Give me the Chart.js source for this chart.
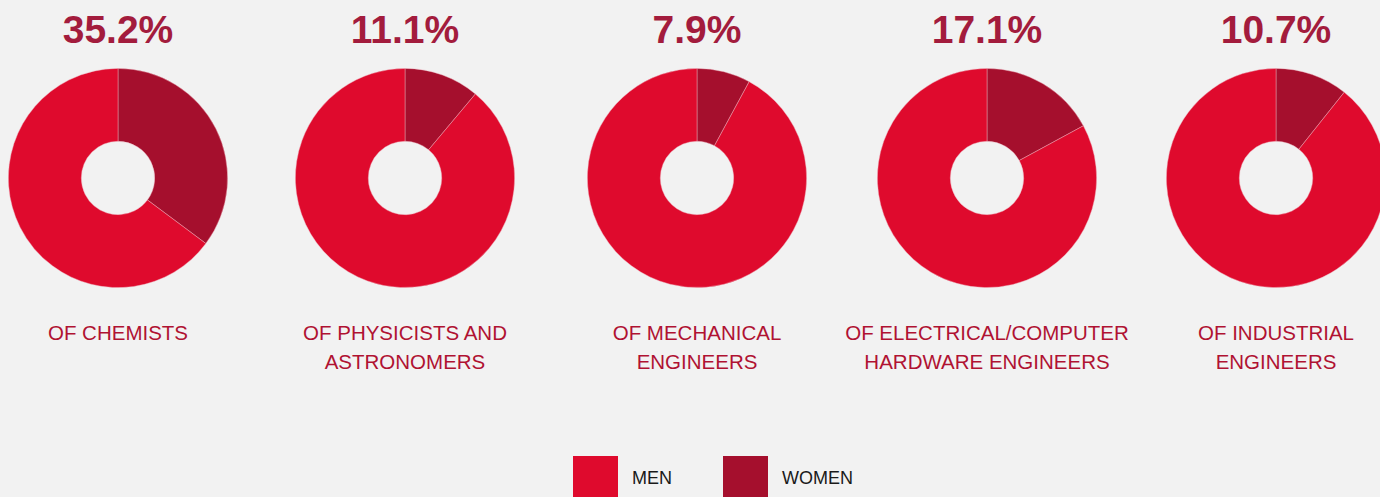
<!DOCTYPE html>
<html>
<head>
<meta charset="utf-8">
<script src="https://cdn.jsdelivr.net/npm/chart.js@4/dist/chart.umd.min.js"></script>
<style>
  html, body {
    margin: 0;
    padding: 0;
    width: 1380px;
    height: 497px;
    overflow: hidden;
    background: #f2f2f2;
    font-family: "Liberation Sans", Arial, sans-serif;
  }
  .panel {
    position: absolute;
    top: 0;
    width: 290px;
    height: 400px;
  }
  .pct {
    position: absolute;
    top: 8px;
    left: 0;
    width: 290px;
    text-align: center;
    font-weight: bold;
    font-size: 39px;
    line-height: 44px;
    color: #a31c3d;
  }
  .pie {
    position: absolute;
    top: 68px;
    left: 35px;
    width: 220px;
    height: 220px;
  }
  .label {
    position: absolute;
    top: 318px;
    left: -20px;
    width: 330px;
    text-align: center;
    font-size: 20.5px;
    line-height: 29px;
    color: #b01232;
  }
  .legend {
    position: absolute;
    top: 456px;
    left: 573px;
    display: flex;
    font-size: 18px;
    color: #1a1a1a;
  }
  .legend .item { display: flex; align-items: center; }
  .legend .swatch { width: 45px; height: 45px; margin-right: 14px; }
</style>
</head>
<body>
<div id="wrap"></div>
<div class="legend" id="legend"></div>

<script>
  // occupations (label lines) and share of women / men, in percent
  const categories = [
    ["OF CHEMISTS"],
    ["OF PHYSICISTS AND", "ASTRONOMERS"],
    ["OF MECHANICAL", "ENGINEERS"],
    ["OF ELECTRICAL/COMPUTER", "HARDWARE ENGINEERS"],
    ["OF INDUSTRIAL", "ENGINEERS"],
  ];
  const womenShare = [35.2, 11.1, 7.9, 17.1, 10.7];
  const menShare = [64.8, 88.9, 92.1, 82.9, 89.3];
  const seriesNames = ["MEN", "WOMEN"];

  const MEN_COLOR = "#df0a2d";
  const WOMEN_COLOR = "#a50f2d";
  const centersX = [118, 405, 697, 987, 1276];

  const wrap = document.getElementById("wrap");

  categories.forEach((lines, i) => {
    const panel = document.createElement("div");
    panel.className = "panel";
    panel.style.left = (centersX[i] - 145) + "px";
    panel.innerHTML = `
      <div class="pct">${womenShare[i].toFixed(1)}%</div>
      <div class="pie"><canvas width="220" height="220"></canvas></div>
      <div class="label">${lines.join("<br>")}</div>
    `;
    wrap.appendChild(panel);

    const ctx = panel.querySelector("canvas").getContext("2d");
    new Chart(ctx, {
      type: "doughnut",
      data: {
        labels: [seriesNames[1], seriesNames[0]],
        datasets: [
          {
            data: [womenShare[i], menShare[i]],
            backgroundColor: [WOMEN_COLOR, MEN_COLOR],
            borderColor: "rgba(240,180,190,0.55)",
            borderWidth: 0.8,
          },
        ],
      },
      options: {
        responsive: false,
        animation: false,
        cutout: "33.5%",
        layout: { padding: 0 },
        plugins: {
          legend: { display: false },
          tooltip: { enabled: false },
        },
      },
    });
  });

  // Legend
  const legend = document.getElementById("legend");
  [[seriesNames[0], MEN_COLOR], [seriesNames[1], WOMEN_COLOR]].forEach(([name, color], k) => {
    const item = document.createElement("div");
    item.className = "item";
    if (k === 0) item.style.width = "150px";
    item.innerHTML = `<div class="swatch" style="background:${color}"></div><span>${name}</span>`;
    legend.appendChild(item);
  });
</script>
</body>
</html>
